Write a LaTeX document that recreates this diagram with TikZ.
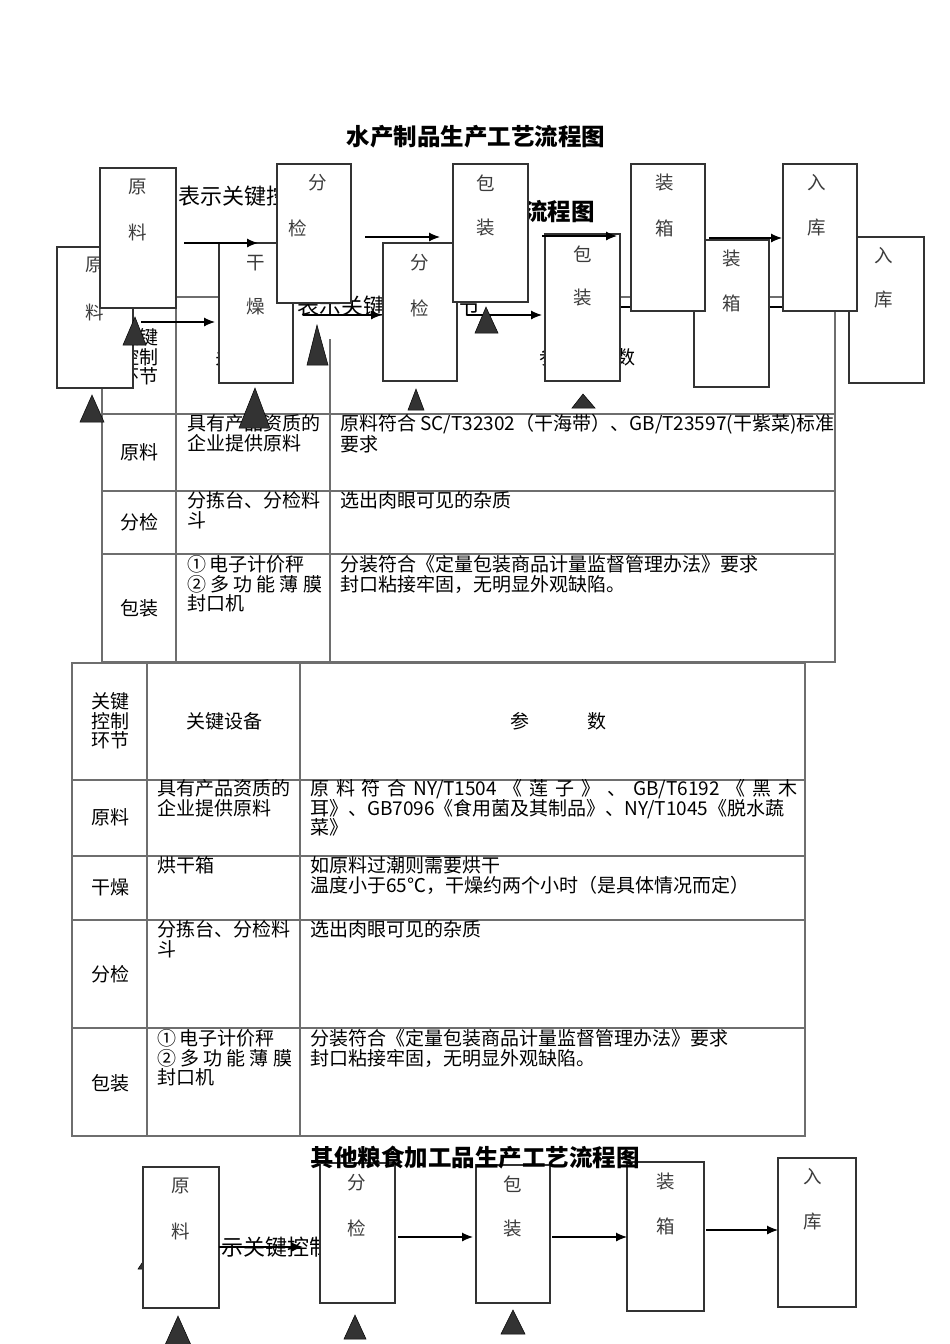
\documentclass[tikz,border=0pt]{standalone}
\usepackage{fontspec}
\setmainfont{Noto Sans CJK SC}
\usetikzlibrary{arrows.meta}

\definecolor{boxline}{HTML}{333333}
\definecolor{gridline}{HTML}{6E6E6E}
\definecolor{boxink}{HTML}{3C3C3C}
\definecolor{keyfill}{HTML}{333333}

\newcommand\tabfont{\fontsize{19}{19.5}\selectfont}
\newcommand\boxfont{\fontsize{18.5}{18.5}\selectfont}
\newcommand\notefont{\fontsize{22}{22}\selectfont}
\newcommand\headfont{\fontsize{23.5}{23.5}\selectfont\bfseries}

\tikzset{
  flowbox/.style={draw=boxline, fill=white, line width=1.2pt, inner sep=0pt},
  boxtext/.style={font=\boxfont, text=boxink, inner sep=0pt},
  cell/.style={anchor=north west, inner sep=0pt, align=left, font=\tabfont},
  cellc/.style={inner sep=0pt, align=center, font=\tabfont},
  grid/.style={draw=gridline, line width=1.1pt},
  note/.style={anchor=west, inner sep=0pt, font=\notefont},
  headline/.style={inner sep=0pt, font=\headfont},
  keymark/.style={fill=keyfill, draw=black, line width=0.5pt},
  flowarr/.style={-{Latex[length=11pt,width=9pt]}, line width=1.1pt},
}

\begin{document}
\begin{tikzpicture}[x=1pt, y=-1pt]
  \useasboundingbox (0,0) rectangle (950,1344);
  \fill[white] (0,0) rectangle (950,1344);

  \node[headline] (title1) at (476,137) {水产制品生产工艺流程图};
  \node[headline, anchor=west] (title2) at (524,212) {流程图};
  \node[note] (note1) at (178,196) {表示关键控};

  \draw[grid] (102,297) rectangle (835,662);
  \draw[grid] (176,297) -- (176,662) (330,297) -- (330,662);
  \foreach \ry in {414,491,554}
    \draw[grid] (102,\ry) -- (835,\ry);

  \node[cellc] (ta-head1) at (139,357) {关键\\控制\\环节};
  \node[cellc] (ta-head2) at (253,357) {关键设备};
  \node[cellc] (ta-head3) at (587,357) {参\hspace{58pt}数};
  \node[cellc] (ta-raw) at (139,452) {原料};
  \node[cellc] (ta-sort) at (139,522) {分检};
  \node[cellc] (ta-pack) at (139,608) {包装};
  \node[cell] (ta-raw-dev) at (187,414.5) {具有产品资质的\\企业提供原料};
  \node[cell] (ta-raw-par) at (340,414.5) {原料符合 SC/T32302（干海带）、GB/T23597(干紫菜)标准\\要求};
  \node[cell] (ta-sort-dev) at (187,491.5) {分拣台、分检料\\斗};
  \node[cell] (ta-sort-par) at (340,491.5) {选出肉眼可见的杂质};
  \node[cell] (ta-pack-dev) at (187,555.5) {①\hspace{3pt}电子计价秤\\\makebox[135pt][s]{② 多 功 能 薄 膜}\\封口机};
  \node[cell] (ta-pack-par) at (340,555.5) {分装符合《定量包装商品计量监督管理办法》要求\\封口粘接牢固，无明显外观缺陷。};

  \fill[white] (295,290) rectangle (545,339);
  \node[note] (note2) at (297,306) {表示关键};
  \node[note] (note2-end) at (458,306) {节};

  \foreach \n/\cx/\cy/\w/\h/\ux/\uy/\lx/\ly/\up/\lo in {
      b1/95/317.5/76/141/95/265/95/312/原/料,
      b2/256/313/74/140/256/263/256/307/干/燥,
      b3/420/312/74/138/420/263/420/308/分/检,
      b4/582.5/307.5/75/147/583/254/583/298/包/装,
      b5/731.5/313.5/75/147/732/259/732/303/装/箱,
      b6/886.5/310/75/146/884/256/884/300/入/库}{
    \node[flowbox, minimum width=\w, minimum height=\h] (\n) at (\cx,\cy) {};
    \node[boxtext] (\n-up) at (\ux,\uy) {\up};
    \node[boxtext] (\n-lo) at (\lx,\ly) {\lo};
  }

  \coordinate (b1-out) at (141,322);
  \coordinate (b2-in) at (215,322);
  \coordinate (b2-out) at (303,315);
  \coordinate (b3-in) at (382,315);
  \coordinate (b3-out) at (467,315);
  \coordinate (b4-in) at (542,315);
  \draw[flowarr] (b1-out) -- (b2-in);
  \draw[flowarr] (b2-out) -- (b3-in);
  \draw[flowarr] (b3-out) -- (b4-in);
  \draw[flowarr] (b4.east |- 0,307) -- (b5.west |- 0,307);
  \draw[flowarr] (b5.east |- 0,307) -- (b6.west |- 0,307);

  \foreach \n/\cx/\cy/\w/\h/\ux/\uy/\lx/\ly/\up/\lo in {
      a1/138/238/76/140/138/187/138/232/原/料,
      a2/314/233.5/74/139/318/183/298/228/分/检,
      a3/490.5/233/75/138/486/183/486/228/包/装,
      a4/668/237.5/74/147/665/183/665/228/装/箱,
      a5/820/237.5/74/147/817/183/817/228/入/库}{
    \node[flowbox, minimum width=\w, minimum height=\h] (\n) at (\cx,\cy) {};
    \node[boxtext] (\n-up) at (\ux,\uy) {\up};
    \node[boxtext] (\n-lo) at (\lx,\ly) {\lo};
  }

  \coordinate (a1-out) at (184,243);
  \coordinate (a2-in) at (258,243);
  \coordinate (a2-out) at (365,237);
  \coordinate (a3-in) at (440,237);
  \coordinate (a3-out) at (542,236);
  \coordinate (a4-in) at (617,236);
  \coordinate (a4-out) at (709,238);
  \coordinate (a5-in) at (782,238);
  \draw[flowarr] (a1-out) -- (a2-in);
  \draw[flowarr] (a2-out) -- (a3-in);
  \draw[flowarr] (a3-out) -- (a4-in);
  \draw[flowarr] (a4-out) -- (a5-in);

  \foreach \ax/\ay/\bl/\br/\by in {135/317/123/146/345, 92/395/80/104/422,
      255/388/239/270/428, 317/325/307/328/365, 416/389/408/424/410,
      486/307/475/498/333, 583/394/572/595/408}
    \filldraw[keymark] (\ax,\ay) -- (\br,\by) -- (\bl,\by) -- cycle;

  \draw[grid] (72,663) rectangle (805,1136);
  \draw[grid] (147,663) -- (147,1136) (300,663) -- (300,1136);
  \foreach \ry in {780,856,920,1028}
    \draw[grid] (72,\ry) -- (805,\ry);

  \node[cellc] (tb-head1) at (110,721) {关键\\控制\\环节};
  \node[cellc] (tb-head2) at (224,721) {关键设备};
  \node[cellc] (tb-head3) at (558,721) {参\hspace{58pt}数};
  \node[cellc] (tb-raw) at (110,817) {原料};
  \node[cellc] (tb-dry) at (110,887) {干燥};
  \node[cellc] (tb-sort) at (110,974) {分检};
  \node[cellc] (tb-pack) at (110,1083) {包装};
  \node[cell] (tb-raw-dev) at (157,779.5) {具有产品资质的\\企业提供原料};
  \node[cell] (tb-raw-par) at (310,779.5) {\makebox[487pt][s]{原 料 符 合 NY/T1504 《 莲 子 》 、 GB/T6192 《 黑 木}\\耳》、GB7096《食用菌及其制品》、NY/T1045《脱水蔬\\菜》};
  \node[cell] (tb-dry-dev) at (157,856.5) {烘干箱};
  \node[cell] (tb-dry-par) at (310,856.5) {如原料过潮则需要烘干\\温度小于65℃，干燥约两个小时（是具体情况而定）};
  \node[cell] (tb-sort-dev) at (157,920.5) {分拣台、分检料\\斗};
  \node[cell] (tb-sort-par) at (310,920.5) {选出肉眼可见的杂质};
  \node[cell] (tb-pack-dev) at (157,1029.5) {①\hspace{3pt}电子计价秤\\\makebox[135pt][s]{② 多 功 能 薄 膜}\\封口机};
  \node[cell] (tb-pack-par) at (310,1029.5) {分装符合《定量包装商品计量监督管理办法》要求\\封口粘接牢固，无明显外观缺陷。};

  \filldraw[keymark] (152,1248) -- (166,1269) -- (138,1269) -- cycle;
  \node[note] (note3) at (199,1247) {表示关键控制};

  \foreach \n/\cx/\cy/\w/\h/\ux/\uy/\lx/\ly/\up/\lo in {
      c1/181/1237.5/76/141/181/1186/181/1231/原/料,
      c2/357.5/1233/75/140/357/1183/357/1228/分/检,
      c3/513/1234/74/138/513/1184/513/1229/包/装,
      c4/665.5/1236.5/77/149/666/1182/666/1226/装/箱,
      c5/817/1232.5/78/149/813/1177/813/1222/入/库}{
    \node[flowbox, minimum width=\w, minimum height=\h] (\n) at (\cx,\cy) {};
    \node[boxtext] (\n-up) at (\ux,\uy) {\up};
    \node[boxtext] (\n-lo) at (\lx,\ly) {\lo};
  }

  \node[headline] (title3) at (475,1158) {其他粮食加工品生产工艺流程图};

  \coordinate (c1-out) at (219,1247);
  \coordinate (c2-in) at (303,1247);
  \coordinate (c2-out) at (398,1237);
  \coordinate (c3-in) at (473,1237);
  \coordinate (c3-out) at (552,1237);
  \coordinate (c4-in) at (627,1237);
  \coordinate (c4-out) at (706,1230);
  \coordinate (c5-in) at (778,1230);
  \draw[flowarr] (c1-out) -- (c2-in);
  \draw[flowarr] (c2-out) -- (c3-in);
  \draw[flowarr] (c3-out) -- (c4-in);
  \draw[flowarr] (c4-out) -- (c5-in);

  \foreach \ax/\ay/\bl/\br/\by in {178/1316/165/191/1345, 355/1315/344/366/1339,
      513/1310/501/525/1334}
    \filldraw[keymark] (\ax,\ay) -- (\br,\by) -- (\bl,\by) -- cycle;
\end{tikzpicture}
\end{document}
